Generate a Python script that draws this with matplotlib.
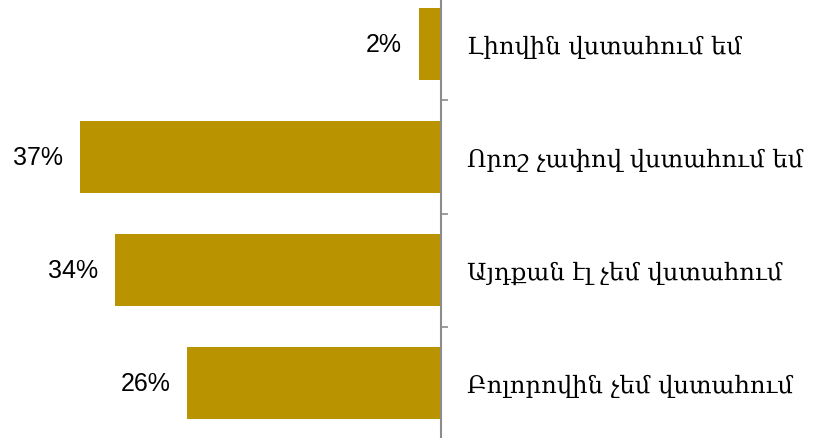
import matplotlib.pyplot as plt
from matplotlib.ticker import FixedLocator

# categories from top to bottom
categories = ["Լիովին վստահում եմ", "Որոշ չափով վստահում եմ",
              "Այդքան էլ չեմ վստահում", "Բոլորովին չեմ վստահում"]
values = [2.3, 37.0, 33.4, 26.0]
labels = ["2%", "37%", "34%", "26%"]

bar_color = "#BA9400"
axis_color = "#8C8C8C"

fig = plt.figure(figsize=(8.14, 4.39), dpi=100)
ax = fig.add_axes([0, -2 / 439, 441 / 814, 453 / 439])

pos = list(range(len(categories)))[::-1]
bars = ax.barh(pos, values, height=0.635, color=bar_color)

ax.set_xlim(45.2, 0)
ax.set_ylim(-0.5, 3.5)

for b, lab in zip(bars, labels):
    ax.annotate(lab, (b.get_width(), b.get_y() + b.get_height() / 2),
                xytext=(-12, 0), textcoords="offset points",
                ha="right", va="center", fontsize=18, family="Liberation Sans",
                color="#000000")

ax.set_xticks([])
ax.yaxis.tick_right()
ax.set_yticks(pos)
ax.set_yticklabels(categories, fontsize=17.5, family=["DejaVu Serif", "DejaVu Sans"])
ax.tick_params(axis="y", which="major", length=0, pad=19)
ax.yaxis.set_minor_locator(FixedLocator([0.5, 1.5, 2.5, -0.5]))
ax.tick_params(axis="y", which="minor", length=5, width=1.2,
               color=axis_color, direction="out", right=True, left=False)

for s in ["left", "top", "bottom"]:
    ax.spines[s].set_visible(False)
ax.spines["right"].set_color(axis_color)
ax.spines["right"].set_linewidth(1.5)

fig.savefig("out.png", dpi=100)
